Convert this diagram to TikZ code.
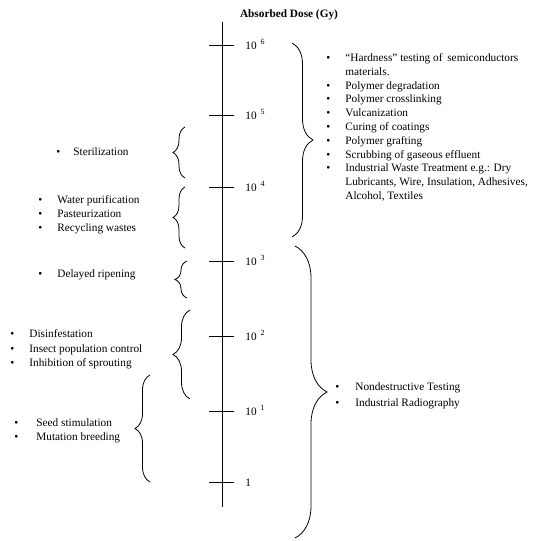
\documentclass[tikz,border=0pt]{standalone}
\usepackage{fontspec}
\setmainfont{Liberation Serif}
\usetikzlibrary{decorations.pathreplacing}

\newcommand\bulletrows[2][15pt]{%
  \begin{tabular}[t]{@{}l@{\hspace{#1}}l@{}}#2\end{tabular}}
\newcommand\tenpow[1]{10\hspace{4pt}\raisebox{1pt}{\textsuperscript{#1}}}

\tikzset{
  curly/.style={decorate, decoration={brace, amplitude=#1}},
  uses/.style={anchor=base west, inner sep=0pt, align=left,
    font=\fontsize{11.3}{14}\selectfont},
}

\begin{document}
\begin{tikzpicture}[x=1pt,y=-1pt,line width=0.8pt]
    \useasboundingbox (0,0) rectangle (533,541);

    % dose axis
    \node[font=\bfseries\fontsize{11.3}{13}\selectfont] (title) at (289,15) {Absorbed Dose (Gy)};
    \coordinate (axtop) at (222,22);
    \coordinate (axbot) at (222,507);
    \draw (axtop) -- (axbot);

    \foreach \e/\y/\txt in {0/482/1, 1/411/\tenpow{1}, 2/336/\tenpow{2},
        3/261/\tenpow{3}, 4/187/\tenpow{4}, 5/115/\tenpow{5}, 6/45/\tenpow{6}}{
      \coordinate (tl\e) at (209,\y);
      \coordinate (tr\e) at (234,\y);
      \draw (tl\e) -- (tr\e);
      \node[anchor=base west, inner sep=0pt, font=\fontsize{11.3}{13}\selectfont] (lab\e) at (245,\y+4) {\txt};
    }

    % braces on the right
    \coordinate (hiA) at (292,43);
    \coordinate (hiB) at (292,237);
    \draw[curly=21pt] (hiA) -- (hiB);
    \coordinate (ndA) at (295,246);
    \coordinate (ndB) at (295,538);
    \draw[curly=32pt] (ndA) -- (ndB);

    % braces on the left
    \coordinate (stA) at (185,178);
    \coordinate (stB) at (185,127);
    \draw[curly=12pt] (stA) -- (stB);
    \coordinate (waA) at (185,248);
    \coordinate (waB) at (185,187);
    \draw[curly=12pt] (waA) -- (waB);
    \coordinate (drA) at (187,298);
    \coordinate (drB) at (187,261);
    \draw[curly=12pt] (drA) -- (drB);
    \coordinate (diA) at (190,399);
    \coordinate (diB) at (190,310);
    \draw[curly=17pt] (diA) -- (diB);
    \coordinate (seA) at (150,482);
    \coordinate (seB) at (150,375);
    \draw[curly=15pt] (seA) -- (seB);

    % uses
    \node[uses, font=\fontsize{11.3}{13.8}\selectfont] (high) at (326,61.5) {\bulletrows{%
      \textbullet & ``Hardness'' testing of\, semiconductors\\
                  & materials.\\
      \textbullet & Polymer degradation\\
      \textbullet & Polymer crosslinking\\
      \textbullet & Vulcanization\\
      \textbullet & Curing of coatings\\
      \textbullet & Polymer grafting\\
      \textbullet & Scrubbing of gaseous effluent\\
      \textbullet & Industrial Waste Treatment e.g.: Dry\\
                  & Lubricants, Wire, Insulation, Adhesives,\\
                  & Alcohol, Textiles}};
    \node[uses] (ndt) at (335,390.5) {\bulletrows[16pt]{%
      \textbullet & Nondestructive Testing\\[2pt]
      \textbullet & Industrial Radiography}};
    \node[uses] (steril) at (56,155.5) {\bulletrows[13pt]{%
      \textbullet & Sterilization}};
    \node[uses] (water) at (38,203.5) {\bulletrows{%
      \textbullet & Water purification\\
      \textbullet & Pasteurization\\
      \textbullet & Recycling wastes}};
    \node[uses] (ripen) at (38,277.5) {\bulletrows{%
      \textbullet & Delayed ripening}};
    \node[uses, font=\fontsize{11.3}{14.5}\selectfont] (insect) at (10,337.5) {\bulletrows{%
      \textbullet & Disinfestation\\
      \textbullet & Insect population control\\
      \textbullet & Inhibition of sprouting}};
    \node[uses] (seed) at (14,426.5) {\bulletrows[18pt]{%
      \textbullet & Seed stimulation\\
      \textbullet & Mutation breeding}};

\end{tikzpicture}
\end{document}
